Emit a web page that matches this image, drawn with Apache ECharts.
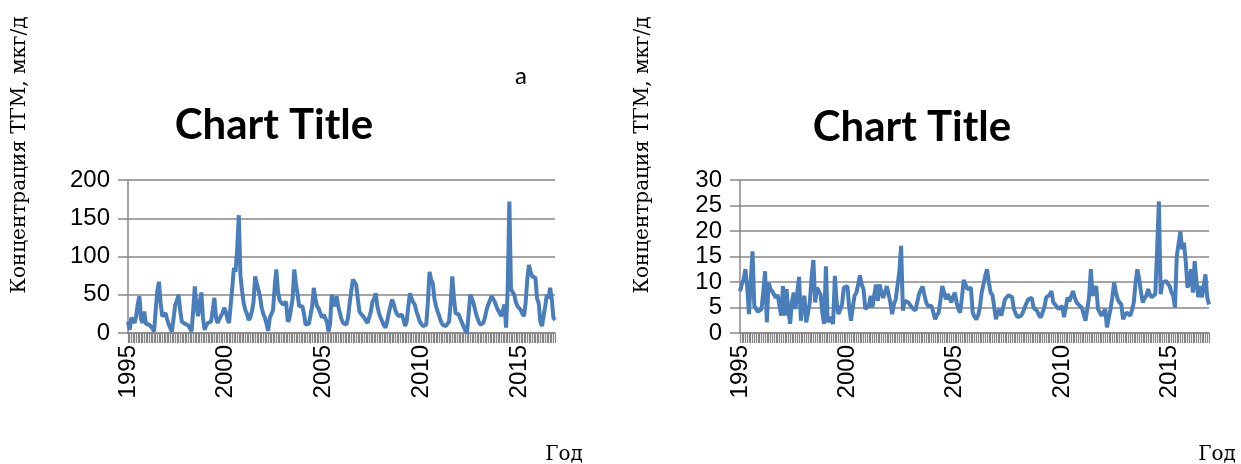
<!DOCTYPE html>
<html>
<head>
<meta charset="utf-8">
<script src="https://cdn.jsdelivr.net/npm/echarts@6/dist/echarts.min.js"></script>
<style>
html,body{margin:0;padding:0;background:#fff;}
#c{width:1241px;height:464px;}
</style>
</head>
<body>
<div id="c"></div>
<script>
// Monthly series, January 1995 onwards
var startYear = 1995;
var tickYears = ['1995', '2000', '2005', '2010', '2015'];
var yTicksA = [0, 50, 100, 150, 200];
var yTicksB = [0, 5, 10, 15, 20, 25, 30];

var seriesA = [
15,4,20,17,13,22,38,48,18,13,28,12,11,11,10,6,2,30,55,67,
40,22,24,26,18,11,6,2,20,37,42,50,30,15,14,12,11,10,6,2,
30,61,35,22,40,53,20,4,10,13,14,15,30,46,20,13,18,22,26,33,
28,18,13,11,60,85,80,110,154,75,55,39,30,25,17,20,28,40,74,65,
63,48,33,25,20,12,3,20,18,30,60,83,55,43,40,37,38,41,15,18,
20,45,83,65,52,35,36,35,25,11,12,12,13,35,59,45,35,32,30,20,
24,26,15,2,12,50,40,35,48,35,26,18,13,12,11,20,39,55,70,68,
63,45,28,25,24,20,16,13,15,28,41,45,52,35,26,20,15,10,7,15,
26,35,44,38,30,25,22,23,24,18,9,15,35,52,45,40,37,28,22,15,
12,9,10,11,40,80,70,65,45,35,28,22,15,11,10,9,12,15,40,74,
45,26,25,24,18,13,8,3,0,25,50,45,39,30,22,16,11,12,13,20,
30,37,42,48,45,41,35,30,26,22,30,37,7,60,172,57,55,50,40,35,
33,30,25,22,40,70,89,80,74,73,72,45,39,15,9,22,35,50,45,59,
45,20,17
];

var seriesB = [
8.2,9.5,10.5,12.5,9.2,3.7,10,16,5.3,4.7,4.2,4.0,4.7,8,12.1,2.1,9.9,8.6,8.2,7.9,
6.9,7.5,7.5,3.4,9.2,3.4,8.6,4.5,1.8,6,7.9,4.7,8,11.0,2.4,6,7.3,2.1,4,6.0,
11,14.3,6.0,8.9,8.2,7.6,4,1.8,13.1,2.1,3.1,3.1,1.8,11.2,6,3.7,4.6,5.6,8.9,9.2,
9.2,5,2.4,5,7.3,7.9,9.5,11.3,9.5,8.6,4.7,5.0,5.3,7.3,5.0,7.5,9.5,6.3,9.5,8,
6.9,8,9.2,7.6,6,3.7,5.6,6.6,6.9,12,17.1,4.4,6.3,6.5,6.0,5.5,5.0,4.7,4.4,6,
7.6,8.5,9.1,7.5,6.0,5.3,5.5,5.3,4,2.7,3.5,4.0,6.5,9.2,8,6.6,7.6,7,6.0,7,
7.9,6,4.7,4.0,7,10.4,9.5,8.6,8.7,8.9,4.0,3.2,2.7,3.4,5,7.9,9.5,11.2,12.5,10,
7.9,7.5,7.3,2.7,4,4.7,3.4,5,6.6,7,7.4,7.2,7.0,4.7,3.8,3.1,3.2,3.4,4,5.0,
5.8,6.6,6.8,6.9,5.0,4.8,4.3,3.5,3,2.7,5,6.9,6.9,7.5,8.2,6.0,5.6,5.3,4.7,5.0,
5.3,3.1,5,7.0,6.2,6.0,8.2,7,6.0,5.6,5.3,4.9,4.7,2.4,2.1,7,12.5,7.3,8.5,9.2,
4.7,4,3.4,4,4.7,1.1,3,4.7,7,9.9,8,6.6,6,5.6,2.7,3.5,4.0,3.7,3.4,4.5,
6.0,10,12.5,10.6,8,6.0,6.8,7.3,8.6,7.5,7.0,7.3,7.6,16,25.8,7.6,9.9,10,10.2,9.7,
9.2,8,7.3,5.0,15.1,17.5,19.9,16.4,17.7,14.1,8.9,10,12.5,7.9,14.1,10,7.0,9.2,7.0,9,
11.5,7.0,5.6
];

var yTitle = 'Концентрация ТГМ, мкг/д';
var xTitle = 'Год';
var chartTitle = 'Chart Title';
var panelMark = 'а';

var categories = [];
for (var i = 0; i < seriesA.length; i++) {
  categories.push(String(startYear + Math.floor(i / 12)) + '-' + String(i % 12 + 1));
}

var grey = '#878787';
var lineColor = '#4a7ebb';
var sans = '"Liberation Sans", Arial, sans-serif';
var serif = '"DejaVu Serif", serif';

function xAxisFor(gi) {
  return {
    type: 'category', gridIndex: gi, data: categories, boundaryGap: false,
    axisLine: { show: true, lineStyle: { color: grey, width: 1.5 } },
    axisTick: { show: true, interval: 0, length: 10, inside: false, lineStyle: { color: grey, width: 1.2 } },
    axisLabel: {
      interval: 59, rotate: 90, margin: 12, color: '#000', fontFamily: sans, fontSize: 24,
      formatter: function (v, idx) { return tickYears[Math.round(idx / 60)] || ''; }
    },
    splitLine: { show: false }
  };
}
function yAxisFor(gi, ticks) {
  return {
    type: 'value', gridIndex: gi, min: ticks[0], max: ticks[ticks.length - 1],
    interval: ticks[1] - ticks[0],
    axisLine: { show: true, lineStyle: { color: grey, width: 1.5 } },
    axisTick: { show: true, length: 10, lineStyle: { color: grey, width: 1.5 } },
    axisLabel: { margin: 18, color: '#000', fontFamily: sans, fontSize: 24 },
    splitLine: { show: true, lineStyle: { color: grey, width: 1.5 } }
  };
}

var chart = echarts.init(document.getElementById('c'), null, { renderer: 'canvas' });
chart.setOption({
  backgroundColor: '#fff',
  animation: false,
  grid: [
    { left: 128, top: 180, width: 427, height: 153 },
    { left: 740, top: 180, width: 469, height: 153 }
  ],
  xAxis: [xAxisFor(0), xAxisFor(1)],
  yAxis: [yAxisFor(0, yTicksA), yAxisFor(1, yTicksB)],
  series: [
    { type: 'line', xAxisIndex: 0, yAxisIndex: 0, data: seriesA, showSymbol: false, symbol: 'none',
      lineStyle: { color: lineColor, width: 4 }, itemStyle: { color: lineColor } },
    { type: 'line', xAxisIndex: 1, yAxisIndex: 1, data: seriesB, showSymbol: false, symbol: 'none',
      lineStyle: { color: lineColor, width: 4 }, itemStyle: { color: lineColor } }
  ],
  graphic: [
    { type: 'text', x: 20, y: 155, rotation: Math.PI / 2,
      style: { text: yTitle, font: '20px ' + serif, fill: '#000', align: 'center', verticalAlign: 'middle' } },
    { type: 'text', x: 643, y: 155, rotation: Math.PI / 2,
      style: { text: yTitle, font: '20px ' + serif, fill: '#000', align: 'center', verticalAlign: 'middle' } },
    { type: 'text', x: 564, y: 455,
      style: { text: xTitle, font: '20px ' + serif, fill: '#000', align: 'center', verticalAlign: 'middle' } },
    { type: 'text', x: 1217, y: 455,
      style: { text: xTitle, font: '20px ' + serif, fill: '#000', align: 'center', verticalAlign: 'middle' } },
    { type: 'text', x: 274, y: 125,
      style: { text: chartTitle, font: 'bold 42px Lato, sans-serif', fill: '#000', align: 'center', verticalAlign: 'middle' } },
    { type: 'text', x: 912, y: 127,
      style: { text: chartTitle, font: 'bold 42px Lato, sans-serif', fill: '#000', align: 'center', verticalAlign: 'middle' } },
    { type: 'text', x: 521, y: 76,
      style: { text: panelMark, font: '24px Lato, sans-serif', fill: '#000', align: 'center', verticalAlign: 'middle' } }
  ]
});
</script>
</body>
</html>
